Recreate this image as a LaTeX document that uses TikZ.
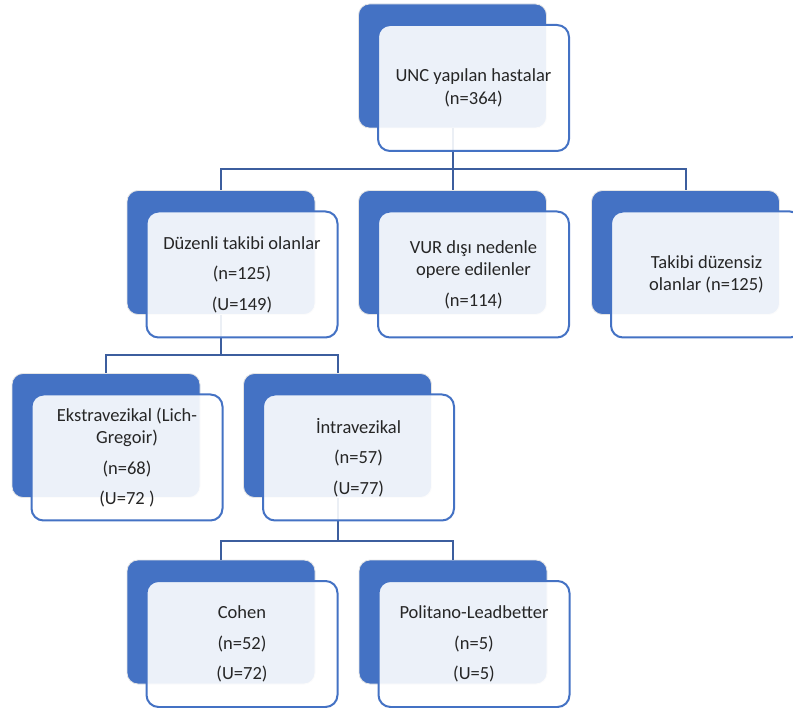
\documentclass[tikz,border=0pt]{standalone}
\usepackage{fontspec}
\setmainfont{Carlito}
\usetikzlibrary{calc}
\definecolor{accent}{RGB}{68,114,196}
\definecolor{connc}{RGB}{60,94,158}
\tikzset{
  backbox/.style={rectangle, rounded corners=11pt, fill=accent, draw=black!10, line width=0.8pt, minimum width=188pt, minimum height=124pt, inner sep=0pt},
  frontbox/.style={rectangle, rounded corners=12pt, draw=accent, line width=2pt, fill=white, fill opacity=0.9, text opacity=1, minimum width=191pt, minimum height=126pt, inner sep=0pt, align=center, font=\fontsize{18.5}{22.5}\selectfont, text=black!85},
  conn/.style={draw=connc, line width=2pt},
}
\begin{document}
\begin{tikzpicture}[x=1pt, y=-1pt]
\useasboundingbox (0,0) rectangle (793,708);
\clip (0,0) rectangle (793,708);
% back boxes
\node[backbox] (b0) at (452.5,66) {};
\node[backbox] (b1) at (221,252.5) {};
\node[backbox] (b2) at (452.5,252.5) {};
\node[backbox] (b3) at (685.5,252.5) {};
\node[backbox] (b4) at (106,435.5) {};
\node[backbox] (b5) at (337.5,435.5) {};
\node[backbox] (b6) at (221,622) {};
\node[backbox] (b7) at (453,622) {};
% junctions
\coordinate (j0) at (b0.south |- 0,169);
\coordinate (j1) at (b1.south |- 0,355);
\coordinate (j5) at (b5.south |- 0,541);
% connectors
\draw[conn] (b0.south) -- (j0) -| (b1.north);
\draw[conn] (j0) -| (b2.north);
\draw[conn] (j0) -| (b3.north);
\draw[conn] (b1.south) -- (j1) -| (b4.north);
\draw[conn] (j1) -| (b5.north);
\draw[conn] (b5.south) -- (j5) -| (b6.north);
\draw[conn] (j5) -| (b7.north);
% front boxes
\node[frontbox] (f0) at ($(b0)+(21,22)$) {UNC yapılan hastalar\\(n=364)};
\node[frontbox] (f1) at ($(b1)+(21,22)$) {Düzenli takibi olanlar\\[8pt](n=125)\\[8pt](U=149)};
\node[frontbox] (f2) at ($(b2)+(21,22)$) {VUR dışı nedenle\\opere edilenler\\[8pt](n=114)};
\node[frontbox] (f3) at ($(b3)+(21,22)$) {Takibi düzensiz\\olanlar (n=125)};
\node[frontbox] (f4) at ($(b4)+(21,22)$) {Ekstravezikal (Lich-\\Gregoir)\\[8pt](n=68)\\[8pt](U=72 )};
\node[frontbox] (f5) at ($(b5)+(21,22)$) {İntravezikal\\[8pt](n=57)\\[8pt](U=77)};
\node[frontbox] (f6) at ($(b6)+(21,22)$) {Cohen\\[8pt](n=52)\\[8pt](U=72)};
\node[frontbox] (f7) at ($(b7)+(21,22)$) {Politano-Leadbetter\\[8pt](n=5)\\[8pt](U=5)};
\end{tikzpicture}
\end{document}
